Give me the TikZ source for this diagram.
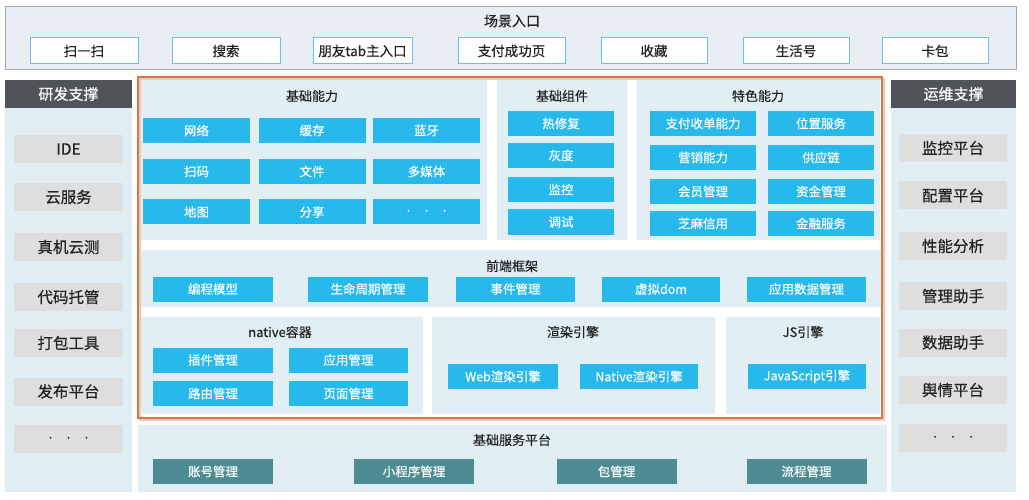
\documentclass[tikz,border=0pt]{standalone}
\usepackage{fontspec}
\setmainfont{Noto Sans CJK SC}
\newfontfamily\medfont{Noto Sans CJK SC}[FakeBold=0.4]
\definecolor{panelc}{HTML}{E1EEF3}
\definecolor{topc}{HTML}{E9EEF4}
\definecolor{cyanc}{HTML}{27B9EC}
\definecolor{grayc}{HTML}{DEDEDE}
\definecolor{darkc}{HTML}{505357}
\definecolor{tealc}{HTML}{4E8C94}
\definecolor{orangec}{HTML}{D4784A}
\definecolor{entryc}{HTML}{6CC0E5}
\definecolor{textc}{HTML}{222222}
\tikzset{
  panel/.style={fill=panelc, draw=none},
  ptitle/.style={font=\medfont\fontsize{13}{15}\selectfont, text=textc, inner sep=0pt},
  cbox/.style={fill=cyanc, text=white, font=\medfont\fontsize{12.5}{14}\selectfont, inner sep=0pt, minimum height=25pt},
  tbox/.style={fill=tealc, text=white, font=\medfont\fontsize{12.5}{14}\selectfont, inner sep=0pt, minimum height=25pt, minimum width=120pt},
  gbox/.style={fill=grayc, text=textc, font=\medfont\fontsize{15.5}{17}\selectfont, inner sep=0pt, minimum height=28pt, minimum width=109pt},
  ebox/.style={fill=white, draw=entryc, line width=1pt, text=textc, font=\medfont\fontsize{13.5}{15}\selectfont, inner sep=0pt, minimum height=26pt},
  hbox/.style={fill=darkc, text=white, font=\medfont\fontsize{15}{17}\selectfont, inner sep=0pt},
  dots/.style={font=\fontsize{9}{10}\selectfont},
}
\begin{document}
\begin{tikzpicture}[x=1pt,y=-1pt]
\useasboundingbox (0,0) rectangle (1029,500);
\fill[white] (0,0) rectangle (1029,500);
% top
\draw[fill=topc, draw=gray!70, line width=0.8pt] (5,6) rectangle (1016,69);
\node[ptitle, font=\medfont\fontsize{14}{16}\selectfont] (ttop) at (512,21) {场景入口};
\node[ebox, minimum width=108pt] (e1) at (84,51) {扫一扫};
\node[ebox, minimum width=108pt] (e2) at (226,51) {搜索};
\node[ebox, minimum width=99pt] (e3) at (362.5,51) {朋友tab主入口};
\node[ebox, minimum width=107pt] (e4) at (511.5,51) {支付成功页};
\node[ebox, minimum width=106pt] (e5) at (654,51) {收藏};
\node[ebox, minimum width=106pt] (e6) at (796,51) {生活号};
\node[ebox, minimum width=106pt] (e7) at (935,51) {卡包};
% left column
\fill[panelc] (5,108) rectangle (132,492);
\node[hbox, minimum width=127pt, minimum height=28pt] (lh) at (68.5,94) {研发支撑};
\node[gbox] (l1) at (68.5,149) {IDE};
\node[gbox] (l2) at (68.5,197) {云服务};
\node[gbox] (l3) at (68.5,247) {真机云测};
\node[gbox] (l4) at (68.5,297) {代码托管};
\node[gbox] (l5) at (68.5,343) {打包工具};
\node[gbox] (l6) at (68.5,391.5) {发布平台};
\node[gbox] (l7) at (68.5,439) {\fontsize{9}{10}\selectfont •\hspace{1em}•\hspace{1em}•};
% right column
\fill[panelc] (891,108) rectangle (1016,492);
\node[hbox, minimum width=125pt, minimum height=28pt] (rh) at (953.5,94) {运维支撑};
\node[gbox, minimum width=108pt] (r1) at (953,148) {监控平台};
\node[gbox, minimum width=108pt] (r2) at (953,195.5) {配置平台};
\node[gbox, minimum width=108pt] (r3) at (953,246) {性能分析};
\node[gbox, minimum width=108pt] (r4) at (953,296) {管理助手};
\node[gbox, minimum width=108pt] (r5) at (953,342.5) {数据助手};
\node[gbox, minimum width=108pt] (r6) at (953,390) {舆情平台};
\node[gbox, minimum width=108pt] (r7) at (953,438) {\fontsize{9}{10}\selectfont •\hspace{1em}•\hspace{1em}•};
% panels
\fill[panelc] (138,78) rectangle (487,240);
\fill[panelc] (497,78) rectangle (627,240);
\fill[panelc] (637,78) rectangle (880,240);
\fill[panelc] (138,250) rectangle (882,307);
\fill[panelc] (138,317) rectangle (423,414);
\fill[panelc] (432,317) rectangle (715,414);
\fill[panelc] (726,317) rectangle (880,414);
\fill[panelc] (138,425) rectangle (887,492);
% 基础能力
\node[ptitle] (t1) at (312,96) {基础能力};
\node[cbox, minimum width=107pt] (a1) at (196.5,130.5) {网络};
\node[cbox, minimum width=107pt] (a2) at (312,130.5) {缓存};
\node[cbox, minimum width=107pt] (a3) at (426.5,130.5) {蓝牙};
\node[cbox, minimum width=107pt] (a4) at (196.5,171.5) {扫码};
\node[cbox, minimum width=107pt] (a5) at (312,171.5) {文件};
\node[cbox, minimum width=107pt] (a6) at (426.5,171.5) {多媒体};
\node[cbox, minimum width=107pt] (a7) at (196.5,212) {地图};
\node[cbox, minimum width=107pt] (a8) at (312,212) {分享};
\node[cbox, minimum width=107pt] (a9) at (426.5,212) {\fontsize{9}{10}\selectfont •\hspace{1em}•\hspace{1em}•};
% 基础组件
\node[ptitle] (t2) at (562,96) {基础组件};
\node[cbox, minimum width=106pt] (b1) at (561,123.5) {热修复};
\node[cbox, minimum width=106pt] (b2) at (561,155.5) {灰度};
\node[cbox, minimum width=106pt] (b3) at (561,189.5) {监控};
\node[cbox, minimum width=106pt] (b4) at (561,222) {调试};
% 特色能力
\node[ptitle] (t3) at (758,96) {特色能力};
\node[cbox, minimum width=106pt] (c1) at (703,123.5) {支付收单能力};
\node[cbox, minimum width=106pt] (c2) at (821,123.5) {位置服务};
\node[cbox, minimum width=106pt] (c3) at (703,157.5) {营销能力};
\node[cbox, minimum width=106pt] (c4) at (821,157.5) {供应链};
\node[cbox, minimum width=106pt] (c5) at (703,191.5) {会员管理};
\node[cbox, minimum width=106pt] (c6) at (821,191.5) {资金管理};
\node[cbox, minimum width=106pt] (c7) at (703,223.5) {芝麻信用};
\node[cbox, minimum width=106pt] (c8) at (821,223.5) {金融服务};
% 前端框架
\node[ptitle] (t4) at (512,266) {前端框架};
\node[cbox, minimum width=120pt] (d1) at (213,289) {编程模型};
\node[cbox, minimum width=120pt] (d2) at (368,289) {生命周期管理};
\node[cbox, minimum width=119pt] (d3) at (515.5,289) {事件管理};
\node[cbox, minimum width=118pt] (d4) at (661,289) {虚拟dom};
\node[cbox, minimum width=119pt] (d5) at (806.5,289) {应用数据管理};
% native容器
\node[ptitle] (t5) at (280,332) {native容器};
\node[cbox, minimum width=120pt] (n1) at (213,360) {插件管理};
\node[cbox, minimum width=119pt] (n2) at (348.5,360) {应用管理};
\node[cbox, minimum width=120pt] (n3) at (213,393.5) {路由管理};
\node[cbox, minimum width=119pt] (n4) at (348.5,393.5) {页面管理};
% 渲染引擎
\node[ptitle] (t6) at (573,332) {渲染引擎};
\node[cbox, minimum width=110pt] (w1) at (503,376.5) {Web渲染引擎};
\node[cbox, minimum width=118pt] (w2) at (639,376.5) {Native渲染引擎};
% JS引擎
\node[ptitle] (t7) at (803,332) {JS引擎};
\node[cbox, minimum width=118pt] (j1) at (807,376.5) {JavaScript引擎};
% 基础服务平台
\node[ptitle] (t8) at (512,440) {基础服务平台};
\node[tbox] (s1) at (213,471.5) {账号管理};
\node[tbox] (s2) at (414,471.5) {小程序管理};
\node[tbox] (s3) at (616.5,471.5) {包管理};
\node[tbox] (s4) at (806.5,471.5) {流程管理};
% orange frame
\draw[orangec!40, line width=2pt] (139.5,79) rectangle (883.5,419.5);
\draw[orangec, line width=1.3pt] (138,77) rectangle (882,418);
\end{tikzpicture}
\end{document}
